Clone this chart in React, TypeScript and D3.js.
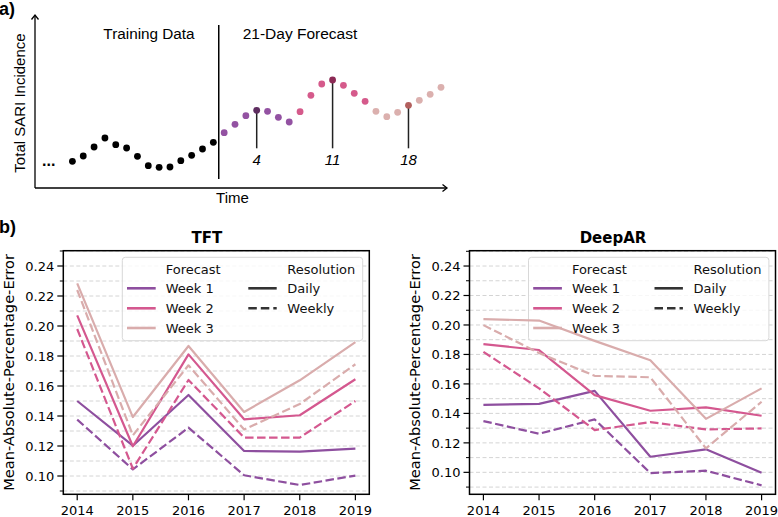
import React from "react";
import * as d3 from "d3";

// ---------- Panel a data ----------
const trainingDays = [-13, -12, -11, -10, -9, -8, -7, -6, -5, -4, -3, -2, -1, 0];
const trainingIncidence = [18.7, 24, 33, 42, 35.3, 32, 23.7, 14.3, 12.7, 13, 19.3, 24.7, 31, 37.7];
const forecastDays = [1, 2, 3, 4, 5, 6, 7, 8, 9, 10, 11, 12, 13, 14, 15, 16, 17, 18, 19, 20, 21];
const forecastIncidence = [47.3, 55.7, 64.3, 69.7, 68.7, 62.7, 58, 68.3, 84.7, 96, 100, 94.7, 86.7, 78.7, 68.7, 63.3, 67.7, 74.7, 79.7, 85.7, 92.7];
const highlightDays = [4, 11, 18];
const weekDotColors = ["#9352a2", "#d55a8b", "#dbb0ae"];
const weekHighlightColors = ["#5e2d60", "#8c2a55", "#b3605e"];

// ---------- Panel b data ----------
const years = [2014, 2015, 2016, 2017, 2018, 2019];
const weeks = ["Week 1", "Week 2", "Week 3"];
const weekColors = ["#8e4f9f", "#d4588f", "#d9acac"];
const resolutions = ["Daily", "Weekly"];

const tftWeek1Daily = [0.150, 0.1202, 0.154, 0.1167, 0.1162, 0.1183];
const tftWeek1Weekly = [0.1376, 0.1044, 0.1322, 0.1005, 0.0940, 0.1003];
const tftWeek2Daily = [0.2071, 0.1198, 0.1811, 0.1378, 0.1405, 0.1645];
const tftWeek2Weekly = [0.1980, 0.1049, 0.1640, 0.1256, 0.1256, 0.1500];
const tftWeek3Daily = [0.2284, 0.1393, 0.1867, 0.1427, 0.1638, 0.1893];
const tftWeek3Weekly = [0.2240, 0.1271, 0.1738, 0.1310, 0.1480, 0.1745];

const deepWeek1Daily = [0.1458, 0.1465, 0.1553, 0.1106, 0.1156, 0.0997];
const deepWeek1Weekly = [0.1348, 0.1262, 0.1359, 0.0995, 0.1011, 0.0912];
const deepWeek2Daily = [0.1870, 0.1830, 0.1524, 0.1418, 0.1441, 0.1384];
const deepWeek2Weekly = [0.1818, 0.1570, 0.1287, 0.1341, 0.1291, 0.1298];
const deepWeek3Daily = [0.2040, 0.2030, 0.1892, 0.1761, 0.1363, 0.1570];
const deepWeek3Weekly = [0.1999, 0.1810, 0.1655, 0.1645, 0.1163, 0.1479];

const yMajorTicks = [0.10, 0.12, 0.14, 0.16, 0.18, 0.20, 0.22, 0.24];
const yMajorLabels = ["0.10", "0.12", "0.14", "0.16", "0.18", "0.20", "0.22", "0.24"];
const yMinorTicks = [0.09, 0.11, 0.13, 0.15, 0.17, 0.19, 0.21, 0.23, 0.25];

const tftSeries = [
  [tftWeek1Daily, tftWeek1Weekly],
  [tftWeek2Daily, tftWeek2Weekly],
  [tftWeek3Daily, tftWeek3Weekly],
];
const deepSeries = [
  [deepWeek1Daily, deepWeek1Weekly],
  [deepWeek2Daily, deepWeek2Weekly],
  [deepWeek3Daily, deepWeek3Weekly],
];

const SANS_B = "'DejaVu Sans', sans-serif";
const SANS_A = "'Liberation Sans', Arial, sans-serif";

function PanelA() {
  const x = d3.scaleLinear().domain([-13, 21]).range([72.4, 441]);
  const y = d3.scaleLinear().domain([0, 100]).range([180, 80]);
  const dividerX = (x(0) + x(1)) / 2;
  return (
    <g>
      <text x={-1} y={15} fontFamily={SANS_A} fontWeight="bold" fontSize={18}>a)</text>
      <line x1={35} y1={188} x2={35} y2={15} stroke="#000" strokeWidth={1.3} />
      <line x1={35} y1={188} x2={447} y2={188} stroke="#000" strokeWidth={1.3} />
      <path d="M31.5,19.5 L35,15 L38.5,19.5" fill="none" stroke="#000" strokeWidth={1.3} />
      <path d="M442.5,184.5 L447,188 L442.5,191.5" fill="none" stroke="#000" strokeWidth={1.3} />
      <text transform="translate(25,103) rotate(-90)" fontFamily={SANS_A} fontSize={15} textAnchor="middle">Total SARI Incidence</text>
      <text x={232.5} y={203} fontFamily={SANS_A} fontSize={15} textAnchor="middle">Time</text>
      <line x1={dividerX} y1={25} x2={dividerX} y2={179} stroke="#000" strokeWidth={1.5} />
      <text x={149} y={39} fontFamily={SANS_A} fontSize={15.3} textAnchor="middle">Training Data</text>
      <text x={300} y={39} fontFamily={SANS_A} fontSize={15.5} textAnchor="middle">21-Day Forecast</text>
      <text x={42} y={166} fontFamily={SANS_A} fontSize={16} fontWeight="bold">...</text>
      {highlightDays.map((d) => {
        const v = forecastIncidence[forecastDays.indexOf(d)];
        return (
          <g key={d}>
            <line x1={x(d)} x2={x(d)} y1={y(v)} y2={148.3} stroke="#222" strokeWidth={1.5} />
            <text x={x(d)} y={164.5} fontFamily={SANS_A} fontStyle="italic" fontSize={15} textAnchor="middle">{d}</text>
          </g>
        );
      })}
      {trainingDays.map((d, i) => (
        <circle key={"t" + d} cx={x(d)} cy={y(trainingIncidence[i])} r={3.4} fill="#000" />
      ))}
      {forecastDays.map((d, i) => {
        const w = Math.floor((d - 1) / 7);
        const hl = highlightDays.includes(d);
        return (
          <circle key={"f" + d} cx={x(d)} cy={y(forecastIncidence[i])} r={3.4}
            fill={hl ? weekHighlightColors[w] : weekDotColors[w]} />
        );
      })}
    </g>
  );
}

function LinePanel({ left, right, title, domain, series, ylabelX }) {
  const top = 250.7, bottom = 494.3;
  const x = d3.scaleLinear().domain([2013.75, 2019.25]).range([left, right]);
  const y = d3.scaleLinear().domain(domain).range([bottom, top]);
  const grid = [...yMajorTicks, ...yMinorTicks].filter((v) => v >= domain[0] && v <= domain[1]);
  const line = d3.line<number>().x((_, i) => x(years[i])).y((v) => y(v));
  const boxL = right - 247;
  const boxT = 257.3;
  const rows = [288.3, 308.3, 328];
  return (
    <g>
      <text x={(left + right) / 2 - 9.5} y={243} fontFamily={SANS_B} fontWeight="bold" fontSize={15} textAnchor="middle">{title}</text>
      {grid.map((v) => (
        <line key={v} x1={left} x2={right} y1={y(v)} y2={y(v)} stroke="#cfcfcf" strokeWidth={0.9} strokeDasharray="4,2.5" />
      ))}
      <rect x={boxL} y={boxT} width={240.4} height={83.4} rx={3} fill="#fff" fillOpacity={0.8} stroke="#d8d8d8" strokeWidth={1} />
      {series.map((pair, wi) =>
        pair.map((vals, ri) => (
          <path key={wi + "-" + ri} d={line(vals) || ""} fill="none" stroke={weekColors[wi]}
            strokeWidth={2.2} strokeDasharray={ri === 1 ? "8.5,3.5" : undefined} strokeLinejoin="round" />
        ))
      )}
      <g fontFamily={SANS_B} fontSize={13} fill="#111">
        <text x={boxL + 43.4} y={273.6}>Forecast</text>
        <text x={boxL + 165} y={273.6}>Resolution</text>
        {weeks.map((w, i) => (
          <g key={w}>
            <line x1={boxL + 4.7} x2={boxL + 33.4} y1={rows[i]} y2={rows[i]} stroke={weekColors[i]} strokeWidth={2.6} />
            <text x={boxL + 43.4} y={rows[i] + 4.7}>{w}</text>
          </g>
        ))}
        {resolutions.map((r, i) => (
          <g key={r}>
            <line x1={boxL + 126} x2={boxL + 154.4} y1={rows[i]} y2={rows[i]} stroke="#333" strokeWidth={2.6}
              strokeDasharray={i === 1 ? "8.5,4" : undefined} />
            <text x={boxL + 165} y={rows[i] + 4.7}>{r}</text>
          </g>
        ))}
      </g>
      <rect x={left} y={top} width={right - left} height={bottom - top} fill="none" stroke="#000" strokeWidth={1.5} />
      {yMajorTicks.map((v, i) => (
        <g key={"ym" + v}>
          <line x1={left - 6} x2={left} y1={y(v)} y2={y(v)} stroke="#000" strokeWidth={1.2} />
          <text x={left - 9} y={y(v)} dy="0.36em" textAnchor="end" fontFamily={SANS_B} fontSize={13}>{yMajorLabels[i]}</text>
        </g>
      ))}
      {yMinorTicks.filter((v) => v >= domain[0] && v <= domain[1]).map((v) => (
        <line key={"yn" + v} x1={left - 3.5} x2={left} y1={y(v)} y2={y(v)} stroke="#000" strokeWidth={1} />
      ))}
      {years.map((yr) => (
        <g key={yr}>
          <line x1={x(yr)} x2={x(yr)} y1={bottom} y2={bottom + 6} stroke="#000" strokeWidth={1.2} />
          <text x={x(yr)} y={514.5} textAnchor="middle" fontFamily={SANS_B} fontSize={13}>{yr}</text>
        </g>
      ))}
      <text transform={`translate(${ylabelX},372.4) rotate(-90)`} textAnchor="middle" fontFamily={SANS_B} fontSize={14.6}>
        Mean-Absolute-Percentage-Error
      </text>
    </g>
  );
}

export default function App() {
  return (
    <svg width={778} height={517} style={{ position: "absolute", left: 0, top: 0, background: "#fff" }}>
      <rect x={0} y={0} width={778} height={517} fill="#fff" />
      <PanelA />
      <text x={-1} y={233} fontFamily={SANS_A} fontWeight="bold" fontSize={18}>b)</text>
      <LinePanel left={63.3} right={369.3} title="TFT" domain={[0.0878, 0.2502]} series={tftSeries} ylabelX={13.6} />
      <LinePanel left={469.5} right={775.5} title="DeepAR" domain={[0.0851, 0.2504]} series={deepSeries} ylabelX={420.2} />
    </svg>
  );
}
